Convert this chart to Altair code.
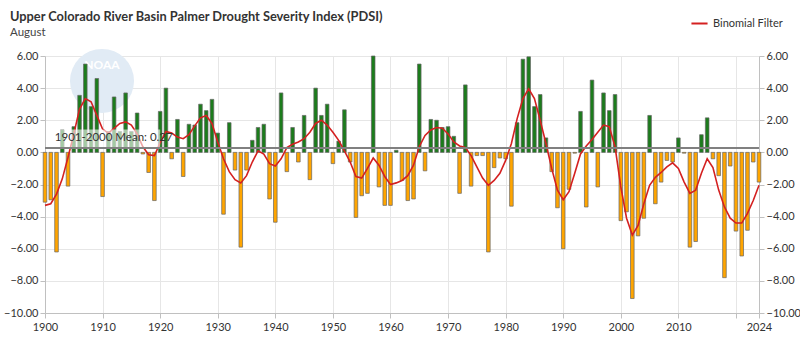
import altair as alt
import pandas as pd

# Water years shown on the chart
years = list(range(1900, 2025))

# August PDSI, Upper Colorado River Basin
pdsi = [
    -3.1, -2.95, -6.2, 1.4, -2.1, 1.6, 3.55, 5.5, 2.85, 4.6,        # 1900s
    -2.75, 1.3, 3.45, 1.3, 3.7, 1.3, 2.45, -0.1, -1.25, -3.0,        # 1910s
    2.55, 4.0, -0.4, 2.05, -1.5, 1.75, 1.7, 3.0, 2.6, 3.3,           # 1920s
    1.2, -3.85, 1.85, -1.1, -5.9, -1.1, 0.75, 1.55, 1.75, -2.9,      # 1930s
    -4.35, 3.7, -1.2, 1.55, -0.6, 2.3, -1.7, 4.0, 2.3, 3.0,          # 1940s
    -0.7, 0.7, 2.65, -0.6, -4.05, -2.7, -2.55, 6.0, -2.15, -3.3,     # 1950s
    -3.3, 0.13, -1.75, -3.0, -2.9, 5.5, -1.15, 2.05, 2.0, 1.55,      # 1960s
    1.6, 1.0, -2.55, 4.2, -2.1, -0.2, -0.2, -6.2, -0.95, -0.35,      # 1970s
    -0.4, -3.35, 1.85, 5.8, 5.95, 2.85, 3.6, 0.9, -1.2, -3.45,       # 1980s
    -6.0, -2.3, -0.05, 2.55, -3.4, 4.5, -2.15, 3.7, 2.6, 3.6,        # 1990s
    -4.25, -3.7, -9.1, -5.2, -4.1, 2.3, -3.2, -1.85, -0.5, -0.6,     # 2000s
    0.9, -0.05, -5.9, -5.55, 1.1, 2.15, -0.4, -1.45, -7.8, -0.85,    # 2010s
    -4.9, -6.45, -4.85, -0.6, -1.85,                                 # 2020s
]

# Binomial filter of the same series
binomial = [
    -3.3, -3.2, -2.6, -1.65, -0.3, 1.15, 2.7, 3.35, 3.15, 2.3,
    1.45, 1.2, 1.5, 1.8, 1.9, 1.7, 1.15, 0.35, -0.15, -0.2,
    0.6, 1.3, 1.2, 0.95, 0.85, 1.1, 1.65, 2.15, 2.3, 1.8,
    0.65, -0.4, -1.2, -1.7, -1.9, -1.45, -0.6, 0.1, -0.1, -0.7,
    -0.85, -0.4, 0.3, 0.5, 0.65, 0.85, 1.25, 1.8, 2.0, 1.7,
    1.25, 0.75, 0.1, -0.6, -1.5, -1.6, -1.0, -0.35, -0.8, -1.5,
    -2.0, -1.9, -1.75, -1.45, -0.8, 0.35, 1.05, 1.4, 1.55, 1.5,
    1.15, 0.65, 0.4, 0.3, -0.2, -0.9, -1.6, -2.05, -1.75, -1.3,
    -0.5, 0.55, 2.1, 3.35, 3.95, 3.35, 2.0, 0.55, -1.0, -2.35,
    -2.95, -2.45, -1.3, -0.1, 0.4, 0.8, 1.25, 1.7, 1.6, 0.35,
    -2.15, -4.1, -5.15, -4.55, -3.2, -2.05, -1.55, -1.25, -0.9, -0.65,
    -1.0, -1.85, -2.55, -2.35, -1.3, -0.4, -0.95, -2.35, -3.4, -4.1,
    -4.4, -4.4, -3.8, -3.0, -2.05,
]

title_text = "Upper Colorado River Basin Palmer Drought Severity Index (PDSI)"
subtitle_text = "August"
mean_value = 0.27
mean_label = "1901-2000 Mean: 0.27"
year_ticks = [1900, 1910, 1920, 1930, 1940, 1950, 1960, 1970, 1980, 1990, 2000, 2010, 2020, 2024]
value_ticks = [-10, -8, -6, -4, -2, 0, 2, 4, 6]

FONT = "Lato"
GREEN = "#1c7c1c"
ORANGE = "#ffa500"
RED = "#d42020"
TEXT = "#333333"

df = pd.DataFrame({"year": years, "pdsi": pdsi, "filter": binomial})
df["series"] = "Binomial Filter"

# no extra padding on the year scale: 1900 and 2024 sit on the plot edges
x_scale = alt.Scale(domain=[1900, 2024], nice=False, zero=False, padding=0)
y_scale = alt.Scale(domain=[-10, 6], nice=False)

axis_style = dict(
    domainColor="#c0c0c0", tickColor="#c0c0c0", tickSize=5,
    labelColor=TEXT, labelFontSize=11, labelFont=FONT, title=None,
)
x_axis = alt.Axis(
    values=year_ticks,
    labelExpr="datum.value == 2020 ? '' : datum.value",
    labelFlush=False, labelPadding=3,
    grid=True, gridColor="#e6e6e6",
    **axis_style,
)
y_left = alt.Axis(values=value_ticks, format=".2f", orient="left",
                  grid=True, gridColor="#e6e6e6", labelPadding=2, **axis_style)
y_right = alt.Axis(values=value_ticks, format=".2f", orient="right",
                   grid=False, labelPadding=2, **axis_style)

one = pd.DataFrame({"k": [0]})

# chart heading drawn in the top-left corner
heading = alt.Chart(one).mark_text(
    align="left", baseline="alphabetic", font=FONT, fontSize=12.8,
    fontWeight="bold", color=TEXT,
).encode(x=alt.value(-35), y=alt.value(-35.5), text=alt.value(title_text))
subheading = alt.Chart(one).mark_text(
    align="left", baseline="alphabetic", font=FONT, fontSize=11.5, color="#444444",
).encode(x=alt.value(-35), y=alt.value(-20.5), text=alt.value(subtitle_text))

# faint agency emblem in the upper-left corner
emblem_df = pd.DataFrame({"year": [1909.9], "pdsi": [4.45], "txt": ["NOAA"]})
emblem = alt.Chart(emblem_df).mark_circle(size=4100, color="#e1ebf5", opacity=1).encode(
    x=alt.X("year:Q", scale=x_scale, axis=x_axis),
    y=alt.Y("pdsi:Q", scale=y_scale, axis=None),
)
emblem_text = alt.Chart(emblem_df).mark_text(
    font=FONT, fontSize=12, fontWeight="bold", color="white", dy=-16
).encode(x="year:Q", y=alt.Y("pdsi:Q", axis=None), text="txt:N")

bars = alt.Chart(df).mark_bar(width=3.6, stroke="#666666", strokeWidth=0.7).encode(
    x=alt.X("year:Q", scale=x_scale),
    y=alt.Y("pdsi:Q", scale=y_scale, axis=y_left),
    y2=alt.datum(0),
    color=alt.condition("datum.pdsi >= 0", alt.value(GREEN), alt.value(ORANGE)),
)

line = alt.Chart(df).mark_line(strokeWidth=1.6).encode(
    x="year:Q",
    y=alt.Y("filter:Q", axis=None),
    color=alt.Color(
        "series:N",
        scale=alt.Scale(domain=["Binomial Filter"], range=[RED]),
        legend=alt.Legend(
            title=None, orient="none", legendX=645, legendY=-42,
            symbolType="stroke", symbolStrokeWidth=2, symbolSize=260,
            labelFont=FONT, labelFontSize=11, labelColor=TEXT,
        ),
    ),
)

mean_df = pd.DataFrame({"pdsi": [mean_value]})
mean_rule = alt.Chart(mean_df).mark_rule(color="#808080", strokeWidth=2).encode(
    y=alt.Y("pdsi:Q", scale=y_scale, axis=y_right),
)

label_df = pd.DataFrame({
    "x0": [1901.2], "x1": [1920.0], "y0": [0.33], "y1": [1.42],
    "tx": [1901.7], "ty": [0.88], "txt": [mean_label],
})
label_box = alt.Chart(label_df).mark_rect(color="white", opacity=0.6).encode(
    x="x0:Q", x2="x1:Q", y=alt.Y("y0:Q", axis=None), y2="y1:Q",
)
label_text = alt.Chart(label_df).mark_text(
    align="left", baseline="middle", font=FONT, fontSize=11.5, color=TEXT
).encode(x="tx:Q", y=alt.Y("ty:Q", axis=None), text="txt:N")

chart = (
    alt.layer(emblem, emblem_text, bars, line, mean_rule, label_box, label_text,
              heading, subheading)
    .resolve_axis(y="independent")
    .properties(
        width=714, height=257,
        autosize=alt.AutoSizeParams(type="none"),
        padding={"left": 45, "top": 56, "right": 41, "bottom": 28},
    )
    .configure_view(stroke=None)
)

chart.save("out.html", embed_options={"renderer": "svg", "actions": False})
